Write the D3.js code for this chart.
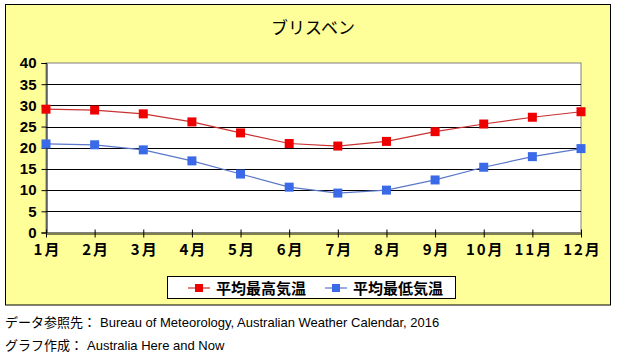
<!DOCTYPE html>
<html>
<head>
<meta charset="utf-8">
<script src="https://cdn.jsdelivr.net/npm/d3@7"></script>
<style>
  body { margin: 0; background: #fff; }
  text { font-family: "Liberation Sans", Arial, "Noto Sans CJK JP", sans-serif; }
  .jp { font-family: "Noto Sans CJK JP", sans-serif; }
</style>
</head>
<body>
<div id="chart"></div>
<script>
// data
const months = ["1月", "2月", "3月", "4月", "5月", "6月", "7月", "8月", "9月", "10月", "11月", "12月"];
const maxTemp = [29.1, 28.9, 28.0, 26.1, 23.5, 21.0, 20.4, 21.5, 23.8, 25.6, 27.2, 28.5];
const minTemp = [20.9, 20.7, 19.5, 16.9, 13.8, 10.7, 9.3, 10.0, 12.4, 15.4, 17.9, 19.8];
const yTicks = [0, 5, 10, 15, 20, 25, 30, 35, 40];
const seriesNames = ["平均最高気温", "平均最低気温"];

const W = 617, H = 361;
const plot = { left: 46, top: 63, right: 581, bottom: 232.5 };

const svg = d3.select("#chart").append("svg")
  .attr("width", W).attr("height", H);

// outer yellow box
svg.append("rect")
  .attr("x", 5.5).attr("y", 4.5)
  .attr("width", 605).attr("height", 300.5)
  .attr("fill", "#ffff99")
  .attr("stroke", "#000").attr("stroke-width", 1);

// title
svg.append("text")
  .attr("class", "jp")
  .attr("x", 313).attr("y", 34)
  .attr("text-anchor", "middle")
  .attr("font-size", 17)
  .text("ブリスベン");

// scales
const x = d3.scalePoint().domain(months).range([plot.left, plot.right]);
const y = d3.scaleLinear().domain([0, 40]).range([plot.bottom, plot.top]);

// plot area
svg.append("rect")
  .attr("x", plot.left).attr("y", plot.top)
  .attr("width", plot.right - plot.left).attr("height", plot.bottom - plot.top)
  .attr("fill", "#fff")
  .attr("stroke", "#808080").attr("stroke-width", 1);

// gridlines
svg.append("g")
  .selectAll("line")
  .data(yTicks.filter(d => d > 0 && d < 40))
  .join("line")
  .attr("x1", plot.left).attr("x2", plot.right)
  .attr("y1", d => Math.round(y(d)) + 0.5).attr("y2", d => Math.round(y(d)) + 0.5)
  .attr("stroke", "#000").attr("stroke-width", 1);

// y axis
const yAxis = svg.append("g")
  .attr("transform", `translate(${plot.left + 0.5},0)`)
  .call(d3.axisLeft(y).tickValues(yTicks).tickSize(5).tickPadding(5));
yAxis.select(".domain").attr("stroke", "#000");
yAxis.selectAll("text")
  .attr("font-size", 15).attr("font-weight", "bold").attr("fill", "#000");

// x axis (ticks cross the axis line)
const xAxis = svg.append("g")
  .attr("transform", `translate(0,${Math.round(plot.bottom) + 0.5})`)
  .call(d3.axisBottom(x).tickSizeInner(4).tickSizeOuter(0).tickPadding(7));
xAxis.select(".domain").attr("stroke", "#000");
xAxis.selectAll(".tick line").attr("y1", -4).attr("stroke", "#000");
xAxis.selectAll("text")
  .attr("class", "jp")
  .attr("font-size", 15).attr("font-weight", "bold").attr("fill", "#000")
  .attr("letter-spacing", 2).attr("dx", 1);

// lines and markers
const series = [
  { name: seriesNames[0], values: maxTemp, line: "#c83232", marker: "#ee0000" },
  { name: seriesNames[1], values: minTemp, line: "#5a78c8", marker: "#3a6ae8" }
];

const line = d3.line()
  .x((d, i) => x(months[i]))
  .y(d => y(d));

series.forEach(s => {
  svg.append("path")
    .attr("d", line(s.values))
    .attr("fill", "none")
    .attr("stroke", s.line)
    .attr("stroke-width", 1.2);
  svg.append("g")
    .selectAll("rect")
    .data(s.values)
    .join("rect")
    .attr("x", (d, i) => x(months[i]) - 4.5)
    .attr("y", d => y(d) - 4.5)
    .attr("width", 9).attr("height", 9)
    .attr("fill", s.marker);
});

// legend
const legend = svg.append("g");
legend.append("rect")
  .attr("x", 167.5).attr("y", 276.5)
  .attr("width", 288).attr("height", 22)
  .attr("fill", "#fff").attr("stroke", "#000");

const legendX = [188, 325];
series.forEach((s, i) => {
  const g = legend.append("g").attr("transform", `translate(${legendX[i]},288)`);
  g.append("line").attr("x1", 0).attr("x2", 22).attr("y1", 0).attr("y2", 0)
    .attr("stroke", s.line).attr("stroke-width", 1.2);
  g.append("rect").attr("x", 7).attr("y", -4).attr("width", 8).attr("height", 8)
    .attr("fill", s.marker);
  g.append("text")
    .attr("class", "jp")
    .attr("x", 28).attr("y", 5.5)
    .attr("font-size", 15).attr("font-weight", "bold")
    .text(s.name);
});

// source notes
svg.append("text")
  .attr("x", 5).attr("y", 327)
  .attr("font-size", 13)
  .html('<tspan class="jp">データ参照先：</tspan><tspan dx="4">Bureau of Meteorology, Australian Weather Calendar, 2016</tspan>');
svg.append("text")
  .attr("x", 5).attr("y", 350)
  .attr("font-size", 13)
  .html('<tspan class="jp">グラフ作成：</tspan><tspan dx="4">Australia Here and Now</tspan>');
</script>
</body>
</html>
